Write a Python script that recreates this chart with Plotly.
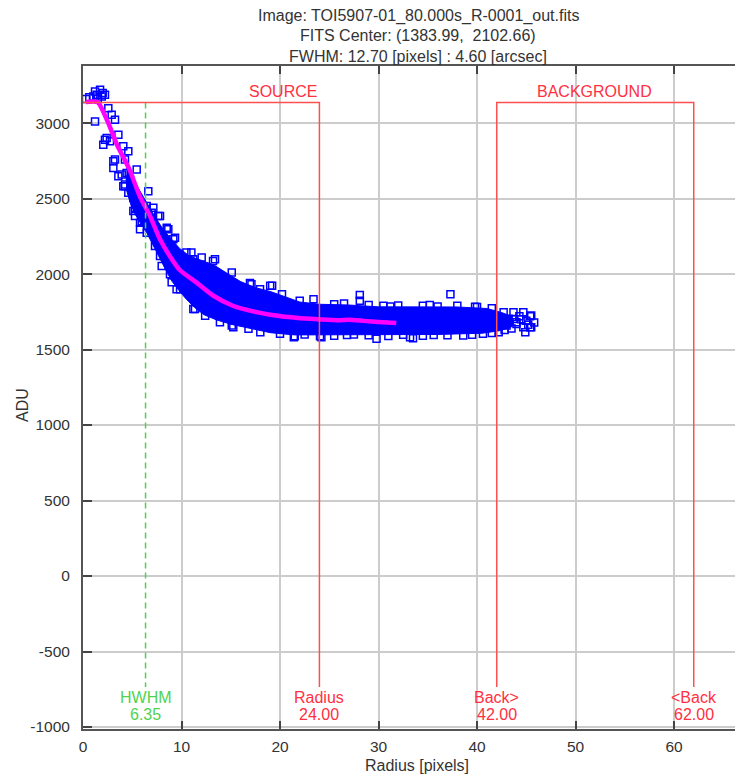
import plotly.graph_objects as go

# ---------------- data ----------------
title_lines = [
    "Image: TOI5907-01_80.000s_R-0001_out.fits",
    "FITS Center: (1383.99,  2102.66)",
    "FWHM: 12.70 [pixels] : 4.60 [arcsec]",
]

# individual measured pixel values (radius, ADU) visible as separate squares
pts_r = [0.64, 1.22, 1.39, 1.9, 2.23, 1.73, 1.05, 0.3, 1.5, 2.0, 1.22, 2.57, 2.91, 3.25, 2.23, 2.74,
         3.08, 3.59, 4.09, 4.26, 4.43, 4.77, 4.94, 4.09, 5.11, 5.28, 5.96, 6.47, 5.45, 4.6, 2.4, 2.06,
         3.25, 3.08, 3.59, 4.26, 4.6, 5.11, 5.28, 5.79, 6.47, 6.97, 7.64, 7.48, 8.5, 9.17, 9.34, 9.85,
         10.5, 11.2, 11.4, 11.2, 3.93, 4.26, 5.11, 5.96, 5.79, 6.63, 7.14, 7.82, 8.66, 9.34, 7.31, 7.82,
         7.99, 8.83, 9.0, 9.5, 12.05, 13.4, 13.9, 15.1, 15.6, 17.1, 11.37, 12.4, 13.9, 15.26, 16.8, 9.85,
         11.0, 13.2, 16.95, 17.97, 19.0, 20.2, 22.0, 23.4, 28.1, 28.1, 31.2, 35.2, 37.3, 39.8, 41.5, 43.7,
         44.7, 45.4, 45.4, 44.7, 43.7, 43.2, 44.0, 18.0, 20.0, 21.5, 24.06, 26.8, 29.8, 33.2, 35.6, 38.6,
         40.6, 42.2, 19.2, 21.4, 24.2, 33.5, 45.5, 45.5, 44.9, 44.0, 42.7, 43.2, 15.1,
         42.5, 43.0, 44.3, 45.0, 45.8, 44.5, 43.5, 42.8, 45.2,
         25.5, 26.5, 29.0, 30.5, 32.0, 34.5, 36.0, 38.0, 40.0,
         22.5, 25.5, 27.5, 29.0, 31.0, 32.5, 34.5, 37.0, 39.5, 41.5]
pts_adu = [3171, 3209, 3187, 3176, 3187, 3220, 3176, 3160, 3160, 3200, 3011, 3099, 3055, 3022, 2890, 2879,
           2747, 2923, 2846, 2758, 2670, 2626, 2582, 2582, 2527, 2439, 2417, 2450, 2692, 2813, 2901, 2857,
           2758, 2703, 2648, 2582, 2538, 2417, 2384, 2340, 2274, 2406, 2384, 2252, 2307, 2230, 2120, 2011,
           2142, 2098, 1922, 1768, 2659, 2593, 2505, 2351, 2296, 2549, 2439, 2384, 2296, 2241, 2186, 2120,
           2054, 1999, 1945, 1900, 2109, 2098, 1988, 2011, 1922, 1933, 1768, 1724, 1681, 1648, 1637, 1900,
           2142, 2087, 1940, 1900, 1922, 1867, 1823, 1834, 1861, 1823, 1786, 1795, 1867, 1784, 1773, 1747,
           1747, 1720, 1648, 1648, 1703, 1703, 1670, 1615, 1604, 1588, 1588, 1597, 1571, 1582, 1597, 1593,
           1604, 1615, 1922, 1582, 1582, 1575, 1725, 1648, 1615, 1681, 1747, 1703, 1659,
           1690, 1660, 1720, 1690, 1680, 1700, 1640, 1630, 1665,
           1800, 1805, 1795, 1790, 1792, 1790, 1785, 1790, 1782,
           1600, 1592, 1600, 1595, 1590, 1598, 1592, 1595, 1598, 1610]

# outline of the densely packed part of the profile (upper edge, then lower edge back)
band_r = [4.4, 5.0, 5.6, 6.2, 6.8, 7.4, 8.2, 9.0, 9.8, 10.8, 12.0, 13.3, 14.5, 16.0, 17.5, 19.0, 20.5,
          22.0, 24.0, 27.0, 30.0, 34.0, 38.0, 41.0, 42.5, 43.5,
          43.5, 42.3, 40.5, 36.0, 30.0, 24.0, 21.5, 19.0, 17.0, 15.2, 13.6, 12.3, 11.3, 10.4, 9.7, 9.0,
          8.3, 7.7, 7.1, 6.5, 5.9, 5.3, 4.8, 4.4]
band_adu = [2700, 2640, 2570, 2500, 2440, 2370, 2290, 2230, 2170, 2120, 2090, 2060, 2010, 1950, 1910,
            1885, 1850, 1815, 1800, 1795, 1783, 1782, 1782, 1772, 1745, 1720,
            1650, 1625, 1608, 1600, 1598, 1596, 1597, 1612, 1640, 1665, 1695, 1730, 1780, 1840, 1895,
            1955, 2040, 2120, 2195, 2270, 2330, 2395, 2470, 2560]

# fitted profile (magenta)
fit_r = [0.3, 1.5, 2.5, 3.5, 4.7, 5.8, 6.8, 7.8, 8.8, 9.85, 11.5, 13.2, 15.2, 17.6, 20.1, 22.0, 24.2,
         26.0, 27.0, 28.5, 30.0, 31.8]
fit_adu = [3140, 3138, 3010, 2850, 2695, 2510, 2385, 2232, 2120, 2025, 1945, 1858, 1790, 1748, 1720,
           1708, 1699, 1694, 1697, 1690, 1683, 1676]

hwhm = 6.35
r_source = 24.00
r_back_in = 42.00
r_back_out = 62.00
aperture_top = 3136
marker_bottom = -735
label1_y = -804
label2_y = -916
group_label_y = 3206

x_ticks = [0, 10, 20, 30, 40, 50, 60]
x_tick_labels = ["0", "10", "20", "30", "40", "50", "60"]
y_ticks = [-1000, -500, 0, 500, 1000, 1500, 2000, 2500, 3000]
y_tick_labels = ["-1000", "-500", "0", "500", "1000", "1500", "2000", "2500", "3000"]

# ---------------- styling ----------------
FONT = "Liberation Sans, Arial, sans-serif"
TXT = "#333333"
RED_LINE = "#ff5050"
RED_TXT = "#ff3040"
GREEN = "#4fd34f"
BLUE = "#0000ff"
FS = 16
TFS = 15.5

# page body has an 8px margin: figure starts at (8, 8) in the window
W, H = 735, 768
L, T, B = 75, 58, 47
PW = W - L
PH = H - T - B


def px_to_paper_x(px):
    return (px - 8 - L) / PW


def px_to_paper_y(py):
    return (H - B - (py - 8)) / PH


fig = go.Figure()

fig.add_trace(go.Scatter(x=band_r, y=band_adu, mode="lines", fill="toself",
                         fillcolor=BLUE, line=dict(color=BLUE, width=1),
                         hoverinfo="skip", showlegend=False))
fig.add_trace(go.Scatter(x=pts_r, y=pts_adu, mode="markers",
                         marker=dict(symbol="square-open", size=7, color=BLUE,
                                     line=dict(color=BLUE, width=1.5)),
                         showlegend=False))
fig.add_trace(go.Scatter(x=fit_r, y=fit_adu, mode="lines",
                         line=dict(color="#ff00ff", width=4.5, shape="spline", smoothing=0.6),
                         showlegend=False))

fig.add_trace(go.Scatter(x=[hwhm, hwhm], y=[aperture_top, marker_bottom], mode="lines",
                         line=dict(color=GREEN, width=1.5, dash="6px,4px"), showlegend=False))
fig.add_trace(go.Scatter(x=[0, r_source, r_source], y=[aperture_top, aperture_top, marker_bottom],
                         mode="lines", line=dict(color=RED_LINE, width=1.5), showlegend=False))
fig.add_trace(go.Scatter(x=[r_back_in, r_back_in, r_back_out, r_back_out],
                         y=[marker_bottom, aperture_top, aperture_top, marker_bottom],
                         mode="lines", line=dict(color=RED_LINE, width=1.5), showlegend=False))

annotations = []
for i, t in enumerate(title_lines):
    annotations.append(dict(text=t, xref="paper", yref="paper", x=px_to_paper_x(418),
                            y=px_to_paper_y(16 + 20 * i), showarrow=False,
                            xanchor="center", yanchor="middle",
                            font=dict(family=FONT, size=FS, color=TXT)))
annotations.append(dict(text="SOURCE", x=20.3, y=group_label_y, showarrow=False,
                        font=dict(family=FONT, size=FS, color=RED_TXT)))
annotations.append(dict(text="BACKGROUND", x=51.9, y=group_label_y, showarrow=False,
                        font=dict(family=FONT, size=FS, color=RED_TXT)))
for xv, name, col in [(hwhm, "HWHM", GREEN), (r_source, "Radius", RED_TXT),
                      (r_back_in, "Back>", RED_TXT), (r_back_out, "<Back", RED_TXT)]:
    annotations.append(dict(text=name, x=xv, y=label1_y, showarrow=False,
                            font=dict(family=FONT, size=FS, color=col)))
    annotations.append(dict(text=f"{xv:.2f}", x=xv, y=label2_y, showarrow=False,
                            font=dict(family=FONT, size=FS, color=col)))
annotations.append(dict(text="ADU", xref="paper", yref="paper", x=px_to_paper_x(22),
                        y=px_to_paper_y(405), textangle=-90, showarrow=False,
                        xanchor="center", yanchor="middle",
                        font=dict(family=FONT, size=FS, color=TXT)))
annotations.append(dict(text="Radius [pixels]", xref="paper", yref="paper",
                        x=px_to_paper_x(417), y=px_to_paper_y(765), showarrow=False,
                        xanchor="center", yanchor="middle",
                        font=dict(family=FONT, size=FS, color=TXT)))

fig.update_layout(
    width=W, height=H,
    margin=dict(l=L, r=0, t=T, b=B, pad=0),
    plot_bgcolor="white", paper_bgcolor="white",
    showlegend=False,
    annotations=annotations,
    xaxis=dict(range=[0, 67.0], tickvals=x_ticks, ticktext=x_tick_labels, ticks="inside",
               ticklen=8, tickwidth=2, tickcolor="#444444", showline=True,
               linecolor="#555555", linewidth=2, mirror="ticks", showgrid=True,
               gridcolor="#cccccc", gridwidth=1.5, zeroline=False,
               tickfont=dict(family=FONT, size=TFS, color=TXT), ticklabelstandoff=2),
    yaxis=dict(range=[-1013, 3378], tickvals=y_ticks, ticktext=y_tick_labels, ticks="inside",
               ticklen=9, tickwidth=2, tickcolor="#444444", showline=True,
               linecolor="#555555", linewidth=2, showgrid=True, gridcolor="#cccccc",
               gridwidth=1.5, zeroline=False,
               tickfont=dict(family=FONT, size=TFS, color=TXT), ticklabelstandoff=8),
)

fig.write_html("out.html")
